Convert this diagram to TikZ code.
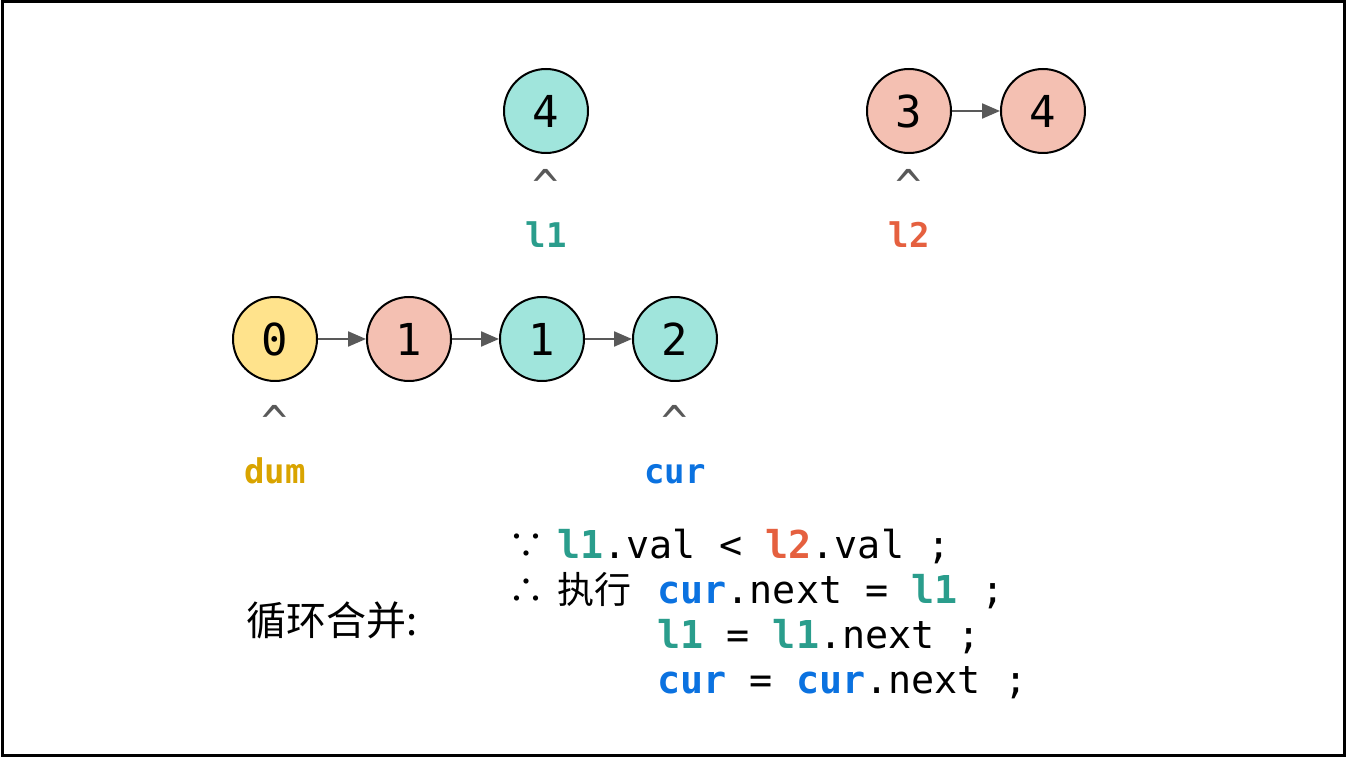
\documentclass[tikz,border=0pt]{standalone}
\usepackage{fontspec}
\setmonofont{DejaVu Sans Mono}
\newfontfamily\cjk{Noto Sans CJK SC}
\usepackage{tikz}
\usetikzlibrary{calc, arrows.meta, positioning}

\definecolor{dumyel}{HTML}{FFE38C}
\definecolor{pinkfill}{HTML}{F4C0B2}
\definecolor{tealfill}{HTML}{A0E5DC}
\definecolor{dumtxt}{HTML}{D9A400}
\definecolor{curtxt}{HTML}{0B72E0}
\definecolor{lonetxt}{HTML}{2A9D8C}
\definecolor{ltwotxt}{HTML}{E5603F}
\definecolor{arrgray}{HTML}{595959}

\tikzset{
  listnode/.style={circle, draw, line width=1pt, minimum size=42pt, inner sep=0pt,
    font=\ttfamily\fontsize{22}{22}\selectfont},
  nextarr/.style={draw=arrgray, line width=1.1pt, arrows={-Triangle[length=9pt,width=7.5pt]}},
  hat/.style={text=arrgray, font=\ttfamily\fontsize{22}{22}\selectfont},
  ptrlbl/.style={anchor=base, font=\ttfamily\bfseries\fontsize{17}{17}\selectfont},
  codeline/.style={anchor=base west, inner sep=0pt, font=\ttfamily\fontsize{19.2}{19.2}\selectfont}
}
\newcommand{\lone}{\textcolor{lonetxt}{\textbf{l1}}}
\newcommand{\ltwo}{\textcolor{ltwotxt}{\textbf{l2}}}
\newcommand{\curp}{\textcolor{curtxt}{\textbf{cur}}}

\begin{document}
\begin{tikzpicture}[x=0.5pt, y=-0.5pt]
    \useasboundingbox (0,0) rectangle (1346,758);
    \draw[line width=1.5pt] (2,2) rectangle (1344,756);

    % merged list
    \node[listnode, fill=dumyel] (n0) at (275,339) {0};
    \node[listnode, fill=pinkfill] (n1) at (409,339) {1};
    \node[listnode, fill=tealfill] (n2) at (542,339) {1};
    \node[listnode, fill=tealfill] (n3) at (675,339) {2};
    \draw[nextarr] (n0) -- (n1);
    \draw[nextarr] (n1) -- (n2);
    \draw[nextarr] (n2) -- (n3);

    % rest of l1
    \node[listnode, fill=tealfill] (a4) at (546,111) {4};

    % rest of l2
    \node[listnode, fill=pinkfill] (b3) at (909,111) {3};
    \node[listnode, fill=pinkfill] (b4) at (1043,111) {4};
    \draw[nextarr] (b3) -- (b4);

    % pointers
    \node[hat] (dumhat) at ($(n0)+(0,82)$) {\textasciicircum};
    \node[ptrlbl, text=dumtxt] (dumlbl) at ($(n0)+(0,145)$) {dum};
    \node[hat] (curhat) at ($(n3)+(0,82)$) {\textasciicircum};
    \node[ptrlbl, text=curtxt] (curlbl) at ($(n3)+(0,145)$) {cur};
    \node[hat] (lonehat) at ($(a4)+(0,74)$) {\textasciicircum};
    \node[ptrlbl, text=lonetxt] (lonelbl) at ($(a4)+(0,137)$) {l1};
    \node[hat] (ltwohat) at ($(b3)+(0,74)$) {\textasciicircum};
    \node[ptrlbl, text=ltwotxt] (ltwolbl) at ($(b3)+(0,137)$) {l2};

    % merge step
    \node[anchor=west, inner sep=0pt, font=\cjk\fontsize{20}{20}\selectfont] (title) at (246,620) {循环合并:};
    \node[codeline, font=\cjk\fontsize{18}{18}\selectfont] (since) at (508,559) {∵};
    \node[codeline] (cond) at (557,559) {\lone.val < \ltwo.val ;};
    \node[codeline, font=\cjk\fontsize{18}{18}\selectfont] (hence) at (508,604) {∴};
    \node[codeline, font=\cjk\fontsize{18.5}{18.5}\selectfont] (exec) at (557,604) {执行};
    \node[codeline] (stepa) at (657,604) {\curp.next = \lone{} ;};
    \node[codeline] (stepb) at (657,649) {\lone{} = \lone.next ;};
    \node[codeline] (stepc) at (657,694) {\curp{} = \curp.next ;};
\end{tikzpicture}
\end{document}
